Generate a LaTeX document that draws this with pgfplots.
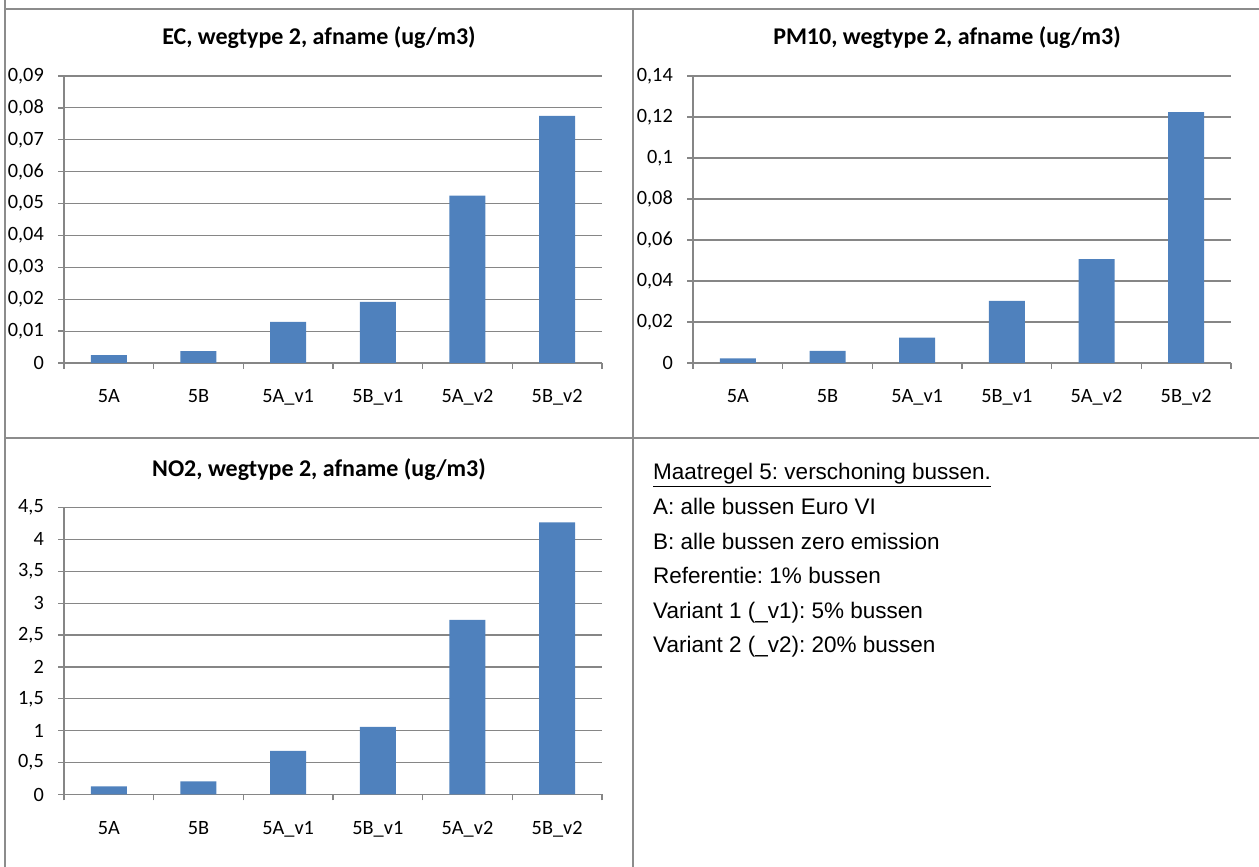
\documentclass[border=0pt]{standalone}
\usepackage{fontspec}
\setmainfont{Carlito}
\newfontfamily\arial{Liberation Sans}
\usepackage{pgfplots}
\pgfplotsset{compat=1.18}
\definecolor{barblue}{HTML}{4F81BD}
\definecolor{axgray}{HTML}{868686}
\definecolor{boxgray}{HTML}{8C8C8C}
\frenchspacing
\pgfplotsset{
  panel/.style={
    scale only axis, width=538pt, height=287pt,
    anchor=south west,
    xmin=-0.5, xmax=5.5, ymin=0,
    xtick={-0.5,0.5,...,5.5}, x tick label as interval=true,
    xticklabels={5A,5B,5A\_v1,5B\_v1,5A\_v2,5B\_v2},
    scaled y ticks=false,
    axis x line*=bottom, axis y line*=left,
    axis line style={draw=axgray, line width=1.3pt, -},
    tick align=outside, major tick length=6pt,
    tick style={draw=axgray, line width=1.3pt},
    ymajorgrids, xmajorgrids=false, grid style={draw=axgray, line width=1.2pt},
    ticklabel style={font=\fontsize{20.3}{24}\selectfont, inner sep=0pt},
    xticklabel style={anchor=base, yshift=-34pt},
    yticklabel style={anchor=east, xshift=-14pt},
    ybar, bar width=36pt,
  }
}
\begin{document}
\begin{tikzpicture}
\path[use as bounding box] (0pt,0pt) rectangle (1259pt,867pt);
% panel borders
\draw[boxgray, line width=1.5pt] (5pt,867pt) -- (5pt,858pt) -- (1259pt,858pt);
\draw[boxgray, line width=1.5pt] (633pt,858pt) -- (633pt,0pt);
\draw[boxgray, line width=1.5pt] (5pt,858pt) -- (5pt,0pt);
\draw[boxgray, line width=2pt] (5pt,428.5pt) -- (1259pt,428.5pt);

% EC
\begin{axis}[panel, at={(64pt,504pt)}, ymax=0.09,
  ytick={0,0.01,...,0.09},
  yticklabels={0,{0,01},{0,02},{0,03},{0,04},{0,05},{0,06},{0,07},{0,08},{0,09}}]
\addplot[fill=barblue, draw=none] coordinates {(0,0.0025) (1,0.0037) (2,0.0129) (3,0.0192) (4,0.0525) (5,0.0775)};
\end{axis}
\node[font=\bfseries\fontsize{24}{28}\selectfont] at (319pt,829pt) {EC, wegtype 2, afname (ug/m3)};

% PM10
\begin{axis}[panel, at={(693pt,504pt)}, ymax=0.14,
  ytick={0,0.02,...,0.14},
  yticklabels={0,{0,02},{0,04},{0,06},{0,08},{0,1},{0,12},{0,14}}]
\addplot[fill=barblue, draw=none] coordinates {(0,0.0023) (1,0.0059) (2,0.0124) (3,0.0303) (4,0.0507) (5,0.1224)};
\end{axis}
\node[font=\bfseries\fontsize{24}{28}\selectfont] at (947pt,829pt) {PM10, wegtype 2, afname (ug/m3)};

% NO2
\begin{axis}[panel, at={(64pt,72.5pt)}, ymax=4.5,
  ytick={0,0.5,...,4.5},
  yticklabels={0,{0,5},1,{1,5},2,{2,5},3,{3,5},4,{4,5}}]
\addplot[fill=barblue, draw=none] coordinates {(0,0.126) (1,0.205) (2,0.682) (3,1.06) (4,2.739) (5,4.265)};
\end{axis}
\node[font=\bfseries\fontsize{24}{28}\selectfont] at (319pt,397pt) {NO2, wegtype 2, afname (ug/m3)};

% text box
\begin{scope}[every node/.style={anchor=base west, inner sep=0pt, font=\arial\fontsize{22.5}{26}\selectfont}]
\node at (653pt,387pt) {\underline{Maatregel 5: verschoning bussen.}};
\node at (653pt,352pt) {A: alle bussen Euro VI};
\node at (653pt,317.5pt) {B: alle bussen zero emission};
\node at (653pt,283pt) {Referentie: 1\% bussen};
\node at (653pt,248.5pt) {Variant 1 (\_v1): 5\% bussen};
\node at (653pt,214pt) {Variant 2 (\_v2): 20\% bussen};
\end{scope}
\end{tikzpicture}
\end{document}
